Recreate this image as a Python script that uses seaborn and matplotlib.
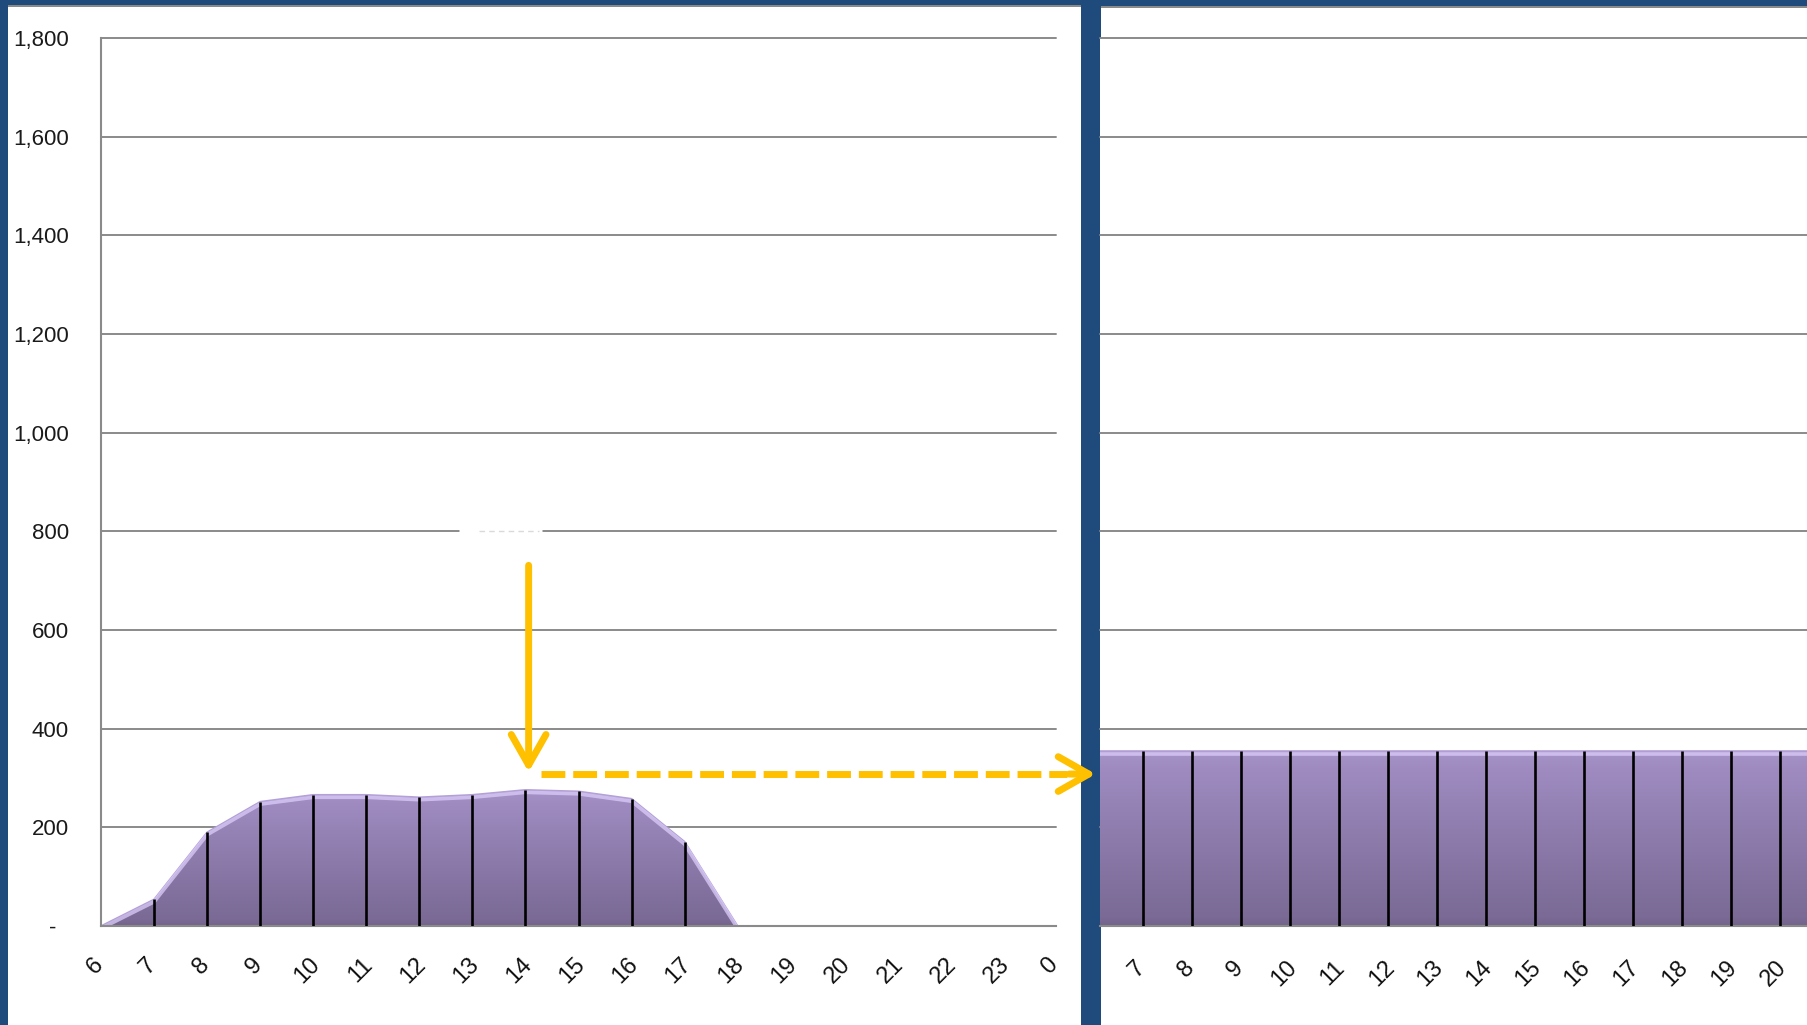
import matplotlib
matplotlib.use("Agg")
import numpy as np
import matplotlib.pyplot as plt
import seaborn as sns
from matplotlib.colors import LinearSegmentedColormap
from matplotlib.patches import Rectangle
from matplotlib import transforms

# ---- data -------------------------------------------------------------
hours_before = [6, 7, 8, 9, 10, 11, 12, 13, 14, 15, 16, 17, 18]
load_before = [0, 54, 190, 252, 266, 266, 261, 266, 276, 273, 258, 171, 0]

hours_after = [6, 7, 8, 9, 10, 11, 12, 13, 14, 15, 16, 17, 18, 19, 20, 21]
load_after = [355, 355, 355, 355, 355, 355, 355, 355, 355, 355, 355, 355, 355, 355, 355, 355]

left_tick_pos = [6, 7, 8, 9, 10, 11, 12, 13, 14, 15, 16, 17, 18, 19, 20, 21, 22, 23, 24]
left_tick_labels = ["6", "7", "8", "9", "10", "11", "12", "13", "14", "15", "16",
                    "17", "18", "19", "20", "21", "22", "23", "0"]
right_tick_pos = [7, 8, 9, 10, 11, 12, 13, 14, 15, 16, 17, 18, 19, 20]
right_tick_labels = ["7", "8", "9", "10", "11", "12", "13", "14", "15", "16",
                     "17", "18", "19", "20"]
y_ticks = [0, 200, 400, 600, 800, 1000, 1200, 1400, 1600, 1800]
y_labels = ["-  ", "200", "400", "600", "800", "1,000", "1,200", "1,400", "1,600", "1,800"]

# shift arrows (hour, load values)
shift_hour = 14.06
shift_from = 731
shift_to = 312
shift_level = 308
shift_start = 14.29
shift_end = 24.75

# ---- style ------------------------------------------------------------
sns.set_theme(style="white")
plt.rcParams["font.family"] = ["Liberation Sans", "DejaVu Sans"]

BLUE = "#1F4A7C"
GRID = "#8A8A8A"
ORANGE = "#FFC000"
purple_cmap = LinearSegmentedColormap.from_list(
    "lavender",
    [(0.0, "#73648C"), (0.05, "#7A6A95"), (0.5, "#8D7BAC"), (0.9, "#9F8BC0"), (1.0, "#A693C8")],
)

W, H = 1808, 1025
fig = plt.figure(figsize=(W / 100, H / 100), dpi=100)
fig.patch.set_facecolor("white")

y0_px, y1_px = 926, 38
ax_l = fig.add_axes([101 / W, (H - y0_px) / H, (1056 - 101) / W, (y0_px - y1_px) / H])
ax_r = fig.add_axes([1100 / W, (H - y0_px) / H, (W - 1100) / W, (y0_px - y1_px) / H])


def style_axes(ax, show_left):
    ax.set_facecolor("white")
    ax.set_ylim(0, 1800)
    ax.set_yticks(y_ticks)
    ax.yaxis.grid(True, color=GRID, lw=1.4)
    ax.xaxis.grid(False)
    for ln in ax.get_ygridlines():
        ln.set_clip_on(False)
    for s in ["top", "right"]:
        ax.spines[s].set_visible(False)
    ax.spines["left"].set_visible(show_left)
    ax.spines["left"].set_color(GRID)
    ax.spines["left"].set_linewidth(1.5)
    ax.spines["bottom"].set_color(GRID)
    ax.spines["bottom"].set_linewidth(1.5)
    ax.tick_params(axis="both", length=0)
    ax.set_axisbelow(True)


def gradient_area(ax, x, y, highlight_offset_px):
    poly = ax.fill_between(x, 0, y, color="#8D7BAC", lw=0, zorder=2)
    top = max(y)
    grad = np.linspace(0, 1, 256).reshape(-1, 1)
    img = ax.imshow(grad, extent=[min(x), max(x), 0, top], origin="lower",
                    aspect="auto", cmap=purple_cmap, zorder=2.1, interpolation="bicubic")
    img.set_clip_path(poly.get_paths()[0], transform=ax.transData)
    # soft outer rim and bevel highlight along the top edge
    sns.lineplot(x=x, y=y, ax=ax, color="#B3A0D6", lw=1.2, zorder=2.2, sort=False)
    inset = ax.transData + transforms.ScaledTranslation(0, -highlight_offset_px / 100,
                                                        fig.dpi_scale_trans)
    sns.lineplot(x=x, y=y, ax=ax, color="#DCCDFA", lw=2.6, zorder=2.3, sort=False,
                 transform=inset, alpha=0.75)


# ---- left panel: load profile -----------------------------------------
style_axes(ax_l, True)
ax_l.set_xlim(6, 24)
gradient_area(ax_l, hours_before, load_before, 2.5)
ax_l.vlines(hours_before[1:-1], 0, load_before[1:-1], color="black", lw=1.9, zorder=3)
ax_l.set_xlim(6, 24)
ax_l.set_ylim(0, 1800)
ax_l.set_xticks(left_tick_pos)
ax_l.set_xticklabels(left_tick_labels, rotation=45, fontsize=17)
ax_l.set_yticklabels(y_labels, fontsize=16, color="#1a1a1a")
ax_l.tick_params(axis="x", pad=20)
ax_l.tick_params(axis="y", pad=23)
ax_l.set_xlabel("")
ax_l.set_ylabel("")

# gap in the 800 gridline left by a white caption
ax_l.plot([12.75, 14.31], [800, 800], color="white", lw=3.5, zorder=1.5, solid_capstyle="butt")
ax_l.plot([13.12, 14.25], [800, 800], color="#DADADA", lw=1.0, zorder=1.6,
          dashes=(4, 3))

# ---- right panel: levelled load ---------------------------------------
style_axes(ax_r, False)
ax_r.set_xlim(6.123, 20.58)
gradient_area(ax_r, hours_after, load_after, 3.5)
ax_r.vlines(hours_after, 0, load_after, color="black", lw=1.9, zorder=3)
ax_r.set_xlim(6.123, 20.58)
ax_r.set_ylim(0, 1800)
ax_r.set_xticks(right_tick_pos)
ax_r.set_xticklabels(right_tick_labels, rotation=45, fontsize=17)
ax_r.set_yticklabels([])
ax_r.tick_params(axis="x", pad=22)
ax_r.set_xlabel("")
ax_r.set_ylabel("")

shift = transforms.ScaledTranslation(-6 / 100, 0, fig.dpi_scale_trans)
for ax in (ax_l, ax_r):
    for lab in ax.get_xticklabels():
        lab.set_transform(lab.get_transform() + shift)
        lab.set_color("#111111")

# ---- frame: blue borders (behind the axes so the arrow tip sits on top) --
def px_rect(x, y_top, w, h, color, z=-1):
    fig.add_artist(Rectangle((x / W, 1 - (y_top + h) / H), w / W, h / H,
                             transform=fig.transFigure, color=color, lw=0, zorder=z))

px_rect(0, 0, 8, H, BLUE)                 # left edge
px_rect(0, 0, 1081, 5, BLUE)              # top edge, left chart
px_rect(8, 5, 1073, 2, GRID)
px_rect(1081, 0, W - 1081, 6, BLUE)       # top edge, right chart
px_rect(1100, 6, W - 1100, 2, GRID)
px_rect(1081, 0, 20, H, BLUE)             # separator

# ---- shift arrows ----------------------------------------------------------
head = "->,head_length=2.2,head_width=1.25"
ax_l.annotate("", xy=(shift_hour, shift_to), xytext=(shift_hour, shift_from),
              arrowprops=dict(arrowstyle=head, color=ORANGE, lw=5, shrinkA=0, shrinkB=0,
                              mutation_scale=10, capstyle="round", joinstyle="round"),
              annotation_clip=False, zorder=20)
ax_l.plot([shift_start, shift_end - 0.55], [shift_level, shift_level], color=ORANGE, lw=5,
          dashes=(3.43, 1.14), clip_on=False, zorder=20, solid_capstyle="butt",
          dash_capstyle="butt")
ann = ax_l.annotate("", xy=(shift_end, shift_level), xytext=(shift_end - 0.5, shift_level),
                    arrowprops=dict(arrowstyle=head, color=ORANGE, lw=5, shrinkA=0, shrinkB=0,
                                    mutation_scale=10, capstyle="round", joinstyle="round"),
                    annotation_clip=False)
ann.set_zorder(30)
ann.arrow_patch.set_zorder(30)
ann.arrow_patch.set_clip_on(False)

fig.savefig("out.png", dpi=100, facecolor="white")
